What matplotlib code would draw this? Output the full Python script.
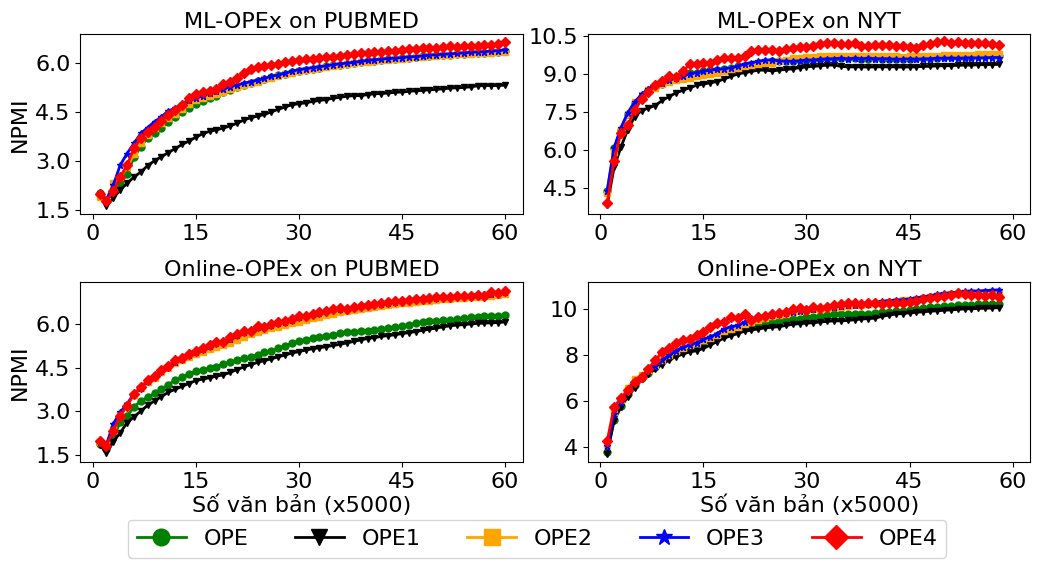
import numpy as np
import matplotlib
matplotlib.use('Agg')
import matplotlib.pyplot as plt

labels = ['OPE', 'OPE1', 'OPE2', 'OPE3', 'OPE4']
colors = ['green', 'black', 'orange', 'blue', 'red']
markers = ['o', 'v', 's', '*', 'D']

x_pubmed = np.arange(1, 61)
x_nyt = np.arange(1, 59)

# ML-OPEx on PUBMED
ml_pubmed_ope = [2.0, 1.8, 2.0, 2.3, 2.6, 3.1, 3.43, 3.7, 3.85, 4.0,
                 4.2, 4.35, 4.5, 4.62, 4.75, 4.83, 4.92, 5.0, 5.1, 5.18,
                 5.25, 5.32, 5.4, 5.45, 5.5, 5.56, 5.62, 5.67, 5.72, 5.77,
                 5.8, 5.83, 5.86, 5.9, 5.93, 5.95, 5.98, 6.0, 6.03, 6.05,
                 6.07, 6.09, 6.11, 6.13, 6.15, 6.17, 6.19, 6.21, 6.22, 6.24,
                 6.25, 6.26, 6.28, 6.29, 6.3, 6.31, 6.32, 6.33, 6.34, 6.36]
ml_pubmed_ope1 = [1.9, 1.6, 1.85, 2.1, 2.3, 2.5, 2.65, 2.85, 3.0, 3.12,
                  3.25, 3.37, 3.5, 3.6, 3.72, 3.83, 3.9, 3.95, 4.0, 4.07,
                  4.15, 4.25, 4.32, 4.37, 4.42, 4.5, 4.58, 4.65, 4.72, 4.75,
                  4.78, 4.82, 4.85, 4.88, 4.92, 4.95, 4.98, 5.0, 5.0, 5.03,
                  5.06, 5.06, 5.08, 5.1, 5.11, 5.13, 5.15, 5.16, 5.18, 5.19,
                  5.21, 5.23, 5.24, 5.25, 5.27, 5.3, 5.31, 5.31, 5.31, 5.32]
ml_pubmed_ope2 = [1.9, 1.8, 2.3, 2.5, 2.8, 3.2, 3.55, 3.8, 4.0, 4.15,
                  4.3, 4.45, 4.6, 4.75, 4.85, 4.92, 4.98, 5.05, 5.12, 5.2,
                  5.27, 5.33, 5.38, 5.43, 5.5, 5.55, 5.6, 5.65, 5.71, 5.76,
                  5.79, 5.82, 5.85, 5.88, 5.91, 5.94, 5.96, 5.99, 6.02, 6.04,
                  6.06, 6.08, 6.1, 6.12, 6.14, 6.16, 6.18, 6.2, 6.22, 6.23,
                  6.25, 6.26, 6.27, 6.28, 6.29, 6.3, 6.31, 6.32, 6.33, 6.35]
ml_pubmed_ope3 = [1.97, 1.8, 2.25, 2.86, 3.22, 3.53, 3.84, 4.02, 4.2, 4.35,
                  4.53, 4.61, 4.74, 4.85, 4.92, 5.0, 5.07, 5.13, 5.2, 5.28,
                  5.33, 5.38, 5.43, 5.48, 5.53, 5.59, 5.64, 5.69, 5.75, 5.8,
                  5.83, 5.86, 5.89, 5.92, 5.95, 5.98, 6.0, 6.02, 6.05, 6.08,
                  6.1, 6.12, 6.14, 6.15, 6.17, 6.19, 6.2, 6.22, 6.24, 6.26,
                  6.27, 6.28, 6.3, 6.31, 6.33, 6.34, 6.35, 6.37, 6.38, 6.41]
ml_pubmed_ope4 = [1.97, 1.76, 2.06, 2.5, 2.86, 3.38, 3.69, 3.89, 4.05, 4.23,
                  4.4, 4.56, 4.71, 4.92, 5.04, 5.1, 5.15, 5.2, 5.36, 5.43,
                  5.54, 5.69, 5.81, 5.88, 5.92, 5.95, 5.98, 6.03, 6.06, 6.1,
                  6.12, 6.13, 6.15, 6.18, 6.2, 6.23, 6.25, 6.27, 6.3, 6.3,
                  6.33, 6.35, 6.36, 6.38, 6.41, 6.42, 6.43, 6.45, 6.46, 6.47,
                  6.48, 6.52, 6.5, 6.51, 6.52, 6.53, 6.55, 6.56, 6.58, 6.64]

# ML-OPEx on NYT
ml_nyt_ope = [4.35, 6.05, 6.8, 7.4, 7.85, 8.1, 8.35, 8.5, 8.6, 8.75,
              8.85, 9.0, 9.05, 9.05, 9.1, 9.15, 9.15, 9.2, 9.25, 9.3,
              9.3, 9.35, 9.4, 9.45, 9.5, 9.5, 9.52, 9.52, 9.55, 9.55,
              9.58, 9.6, 9.62, 9.65, 9.65, 9.63, 9.62, 9.6, 9.6, 9.62,
              9.6, 9.6, 9.58, 9.6, 9.6, 9.62, 9.62, 9.63, 9.65, 9.66,
              9.67, 9.68, 9.68, 9.69, 9.7, 9.7, 9.7, 9.7]
ml_nyt_ope1 = [3.8, 5.3, 6.1, 6.8, 7.3, 7.55, 7.65, 7.75, 7.95, 8.1,
               8.25, 8.35, 8.45, 8.55, 8.6, 8.65, 8.7, 8.8, 8.9, 9.0,
               9.05, 9.1, 9.15, 9.15, 9.12, 9.15, 9.18, 9.2, 9.25, 9.28,
               9.3, 9.32, 9.35, 9.35, 9.3, 9.28, 9.28, 9.28, 9.27, 9.28,
               9.28, 9.28, 9.28, 9.27, 9.28, 9.28, 9.3, 9.3, 9.32, 9.32,
               9.33, 9.34, 9.35, 9.35, 9.36, 9.37, 9.37, 9.38]
ml_nyt_ope2 = [4.3, 5.9, 6.8, 7.4, 7.9, 8.15, 8.35, 8.45, 8.6, 8.7,
               8.75, 8.8, 8.85, 8.9, 8.95, 9.0, 9.05, 9.1, 9.2, 9.25,
               9.3, 9.35, 9.4, 9.42, 9.45, 9.5, 9.55, 9.65, 9.65, 9.67,
               9.68, 9.7, 9.7, 9.7, 9.7, 9.72, 9.7, 9.7, 9.72, 9.7,
               9.7, 9.7, 9.7, 9.68, 9.7, 9.7, 9.72, 9.72, 9.72, 9.74,
               9.75, 9.75, 9.76, 9.76, 9.77, 9.77, 9.77, 9.78]
ml_nyt_ope3 = [4.37, 6.08, 6.87, 7.47, 7.89, 8.19, 8.42, 8.55, 8.65, 8.75,
               8.85, 8.92, 9.0, 9.05, 9.1, 9.15, 9.18, 9.2, 9.25, 9.3,
               9.4, 9.45, 9.5, 9.55, 9.55, 9.52, 9.5, 9.5, 9.52, 9.55,
               9.55, 9.58, 9.6, 9.6, 9.62, 9.6, 9.62, 9.6, 9.62, 9.6,
               9.6, 9.6, 9.58, 9.58, 9.6, 9.58, 9.6, 9.6, 9.62, 9.62,
               9.63, 9.62, 9.63, 9.64, 9.63, 9.64, 9.65, 9.65]
ml_nyt_ope4 = [3.88, 5.55, 6.67, 6.96, 7.57, 7.99, 8.28, 8.55, 8.72, 8.9,
               8.88, 9.1, 9.38, 9.38, 9.42, 9.45, 9.55, 9.65, 9.65, 9.62,
               9.7, 9.9, 9.93, 9.95, 9.93, 9.9, 9.98, 10.02, 10.05, 10.08,
               10.1, 10.17, 10.23, 10.24, 10.2, 10.17, 10.22, 10.12, 10.1, 10.15,
               10.13, 10.15, 10.12, 10.1, 10.08, 10.04, 10.13, 10.17, 10.26, 10.3,
               10.24, 10.26, 10.24, 10.21, 10.21, 10.21, 10.17, 10.13]

# Online-OPEx on PUBMED
on_pubmed_ope = [1.87, 1.7, 2.1, 2.61, 2.84, 3.13, 3.36, 3.47, 3.61, 3.76,
                 3.91, 4.07, 4.16, 4.28, 4.37, 4.42, 4.48, 4.53, 4.62, 4.68,
                 4.76, 4.83, 4.87, 4.94, 5.02, 5.08, 5.17, 5.25, 5.33, 5.43,
                 5.45, 5.52, 5.56, 5.6, 5.63, 5.68, 5.71, 5.74, 5.75, 5.77,
                 5.79, 5.83, 5.86, 5.89, 5.94, 5.98, 6.02, 6.06, 6.09, 6.11,
                 6.13, 6.15, 6.17, 6.2, 6.23, 6.25, 6.27, 6.28, 6.29, 6.31]
on_pubmed_ope1 = [1.85, 1.55, 1.95, 2.25, 2.6, 2.8, 3.0, 3.2, 3.35, 3.5,
                  3.65, 3.75, 3.85, 3.95, 4.05, 4.1, 4.15, 4.2, 4.25, 4.33,
                  4.43, 4.52, 4.6, 4.68, 4.74, 4.8, 4.87, 4.93, 5.0, 5.05,
                  5.1, 5.15, 5.18, 5.22, 5.26, 5.3, 5.35, 5.4, 5.45, 5.5,
                  5.53, 5.57, 5.6, 5.63, 5.67, 5.7, 5.74, 5.78, 5.82, 5.86,
                  5.9, 5.94, 5.96, 5.98, 6.0, 6.02, 6.03, 6.04, 6.05, 6.07]
on_pubmed_ope2 = [1.95, 1.85, 2.4, 2.85, 3.2, 3.55, 3.8, 4.0, 4.15, 4.35,
                  4.5, 4.65, 4.75, 4.85, 4.95, 5.05, 5.15, 5.22, 5.28, 5.35,
                  5.45, 5.55, 5.65, 5.72, 5.78, 5.85, 5.9, 5.95, 6.02, 6.08,
                  6.14, 6.2, 6.25, 6.3, 6.35, 6.4, 6.44, 6.47, 6.51, 6.55,
                  6.58, 6.62, 6.65, 6.68, 6.72, 6.74, 6.76, 6.78, 6.8, 6.83,
                  6.85, 6.87, 6.89, 6.9, 6.92, 6.94, 6.96, 6.98, 7.0, 7.03]
on_pubmed_ope3 = [1.95, 1.85, 2.56, 2.96, 3.25, 3.6, 3.8, 4.05, 4.2, 4.38,
                  4.52, 4.7, 4.8, 4.92, 5.05, 5.13, 5.24, 5.33, 5.38, 5.5,
                  5.62, 5.72, 5.75, 5.88, 5.9, 5.98, 6.04, 6.08, 6.15, 6.25,
                  6.28, 6.33, 6.38, 6.44, 6.5, 6.53, 6.53, 6.57, 6.62, 6.66,
                  6.68, 6.7, 6.74, 6.77, 6.8, 6.82, 6.85, 6.87, 6.89, 6.91,
                  6.92, 6.94, 6.96, 6.98, 6.99, 7.01, 7.02, 7.05, 7.07, 7.1]
on_pubmed_ope4 = [1.98, 1.81, 2.33, 2.84, 3.19, 3.59, 3.82, 4.07, 4.22, 4.42,
                  4.56, 4.76, 4.83, 4.97, 5.08, 5.17, 5.29, 5.37, 5.37, 5.54,
                  5.66, 5.77, 5.75, 5.94, 5.89, 6.0, 6.06, 6.09, 6.17, 6.29,
                  6.29, 6.34, 6.4, 6.46, 6.52, 6.55, 6.52, 6.57, 6.63, 6.67,
                  6.69, 6.71, 6.75, 6.78, 6.8, 6.83, 6.86, 6.86, 6.9, 6.92,
                  6.92, 6.94, 6.95, 6.98, 6.98, 7.01, 6.98, 7.09, 7.06, 7.15]

# Online-OPEx on NYT
on_nyt_ope = [3.8, 5.2, 5.8, 6.3, 6.7, 7.0, 7.25, 7.5, 7.75, 7.95,
              8.15, 8.3, 8.4, 8.5, 8.6, 8.75, 8.85, 8.95, 9.1, 9.2,
              9.25, 9.3, 9.35, 9.4, 9.45, 9.5, 9.55, 9.6, 9.6, 9.65,
              9.65, 9.7, 9.75, 9.78, 9.8, 9.8, 9.8, 9.8, 9.82, 9.85,
              9.88, 9.9, 9.92, 9.95, 9.98, 10.0, 10.05, 10.1, 10.12, 10.15,
              10.15, 10.18, 10.2, 10.2, 10.22, 10.22, 10.22, 10.22]
on_nyt_ope1 = [3.7, 5.15, 5.75, 6.2, 6.6, 6.95, 7.2, 7.4, 7.6, 7.8,
               7.95, 8.05, 8.15, 8.2, 8.3, 8.45, 8.6, 8.75, 8.85, 8.95,
               9.05, 9.1, 9.15, 9.2, 9.22, 9.25, 9.3, 9.35, 9.38, 9.4,
               9.42, 9.45, 9.48, 9.5, 9.5, 9.52, 9.55, 9.58, 9.6, 9.62,
               9.7, 9.75, 9.8, 9.82, 9.85, 9.87, 9.9, 9.92, 9.94, 9.96,
               9.98, 10.0, 10.02, 10.03, 10.04, 10.05, 10.06, 10.08]
on_nyt_ope2 = [4.1, 5.55, 6.05, 6.6, 6.95, 7.15, 7.35, 7.6, 7.82, 8.02,
               8.2, 8.33, 8.43, 8.52, 8.65, 8.75, 8.9, 9.05, 9.15, 9.22,
               9.35, 9.45, 9.55, 9.62, 9.7, 9.75, 9.82, 9.88, 9.93, 9.98,
               10.0, 10.03, 10.08, 10.1, 10.12, 10.15, 10.18, 10.2, 10.22, 10.26,
               10.3, 10.33, 10.36, 10.4, 10.43, 10.47, 10.5, 10.55, 10.58, 10.62,
               10.65, 10.68, 10.7, 10.72, 10.73, 10.74, 10.75, 10.76]
on_nyt_ope3 = [4.05, 5.45, 5.95, 6.5, 6.9, 7.1, 7.3, 7.55, 7.8, 8.0,
               8.2, 8.35, 8.45, 8.55, 8.7, 8.8, 8.95, 9.15, 9.25, 9.3,
               9.45, 9.55, 9.65, 9.7, 9.75, 9.8, 9.85, 9.9, 9.95, 10.0,
               10.02, 10.05, 10.1, 10.12, 10.15, 10.18, 10.2, 10.22, 10.25, 10.3,
               10.35, 10.38, 10.4, 10.42, 10.45, 10.5, 10.55, 10.6, 10.65, 10.7,
               10.72, 10.75, 10.78, 10.8, 10.8, 10.82, 10.83, 10.85]
on_nyt_ope4 = [4.27, 5.75, 6.14, 6.48, 6.84, 7.06, 7.42, 7.79, 8.15, 8.3,
               8.52, 8.66, 8.73, 8.88, 9.02, 9.24, 9.39, 9.46, 9.68, 9.61,
               9.8, 9.53, 9.68, 9.71, 9.8, 9.85, 9.9, 10.0, 10.04, 9.97,
               10.09, 10.04, 10.12, 10.19, 10.23, 10.29, 10.26, 10.23, 10.26, 10.29,
               10.23, 10.26, 10.26, 10.29, 10.33, 10.38, 10.44, 10.48, 10.52, 10.58,
               10.63, 10.7, 10.67, 10.63, 10.63, 10.58, 10.63, 10.55]

panels = [
    ('ML-OPEx on PUBMED', x_pubmed,
     [ml_pubmed_ope, ml_pubmed_ope1, ml_pubmed_ope2, ml_pubmed_ope3, ml_pubmed_ope4],
     [1.5, 3.0, 4.5, 6.0], (1.35, 6.9)),
    ('ML-OPEx on NYT', x_nyt,
     [ml_nyt_ope, ml_nyt_ope1, ml_nyt_ope2, ml_nyt_ope3, ml_nyt_ope4],
     [4.5, 6.0, 7.5, 9.0, 10.5], (3.44, 10.59)),
    ('Online-OPEx on PUBMED', x_pubmed,
     [on_pubmed_ope, on_pubmed_ope1, on_pubmed_ope2, on_pubmed_ope3, on_pubmed_ope4],
     [1.5, 3.0, 4.5, 6.0], (1.24, 7.46)),
    ('Online-OPEx on NYT', x_nyt,
     [on_nyt_ope, on_nyt_ope1, on_nyt_ope2, on_nyt_ope3, on_nyt_ope4],
     [4, 6, 8, 10], (3.35, 11.21)),
]

plt.rcParams['font.size'] = 16

fig, axes = plt.subplots(2, 2, figsize=(10.43, 5.63), dpi=100)
fig.subplots_adjust(left=0.077, right=0.988, top=0.94, bottom=0.179,
                    wspace=0.147, hspace=0.372)

for i, (title, x, series, yticks, ylim) in enumerate(panels):
    ax = axes.flat[i]
    for j, values in enumerate(series):
        ax.plot(x, values, color=colors[j], marker=markers[j], markersize=5,
                linewidth=2, label=labels[j])
    ax.set_title(title, fontsize=16, pad=4)
    ax.set_xticks([0, 15, 30, 45, 60])
    ax.set_xlim(-1.8, 62.6)
    ax.set_yticks(yticks)
    ax.set_ylim(*ylim)
    ax.tick_params(labelsize=16)
    if i % 2 == 0:
        ax.set_ylabel('NPMI', fontsize=16)
    if i >= 2:
        ax.set_xlabel('Số văn bản (x5000)', fontsize=16, labelpad=2)

handles, leg_labels = axes[0, 0].get_legend_handles_labels()
fig.legend(handles, leg_labels, loc='lower center', ncol=5, fontsize=16,
           markerscale=2.4, handlelength=2.2, columnspacing=2.1,
           bbox_to_anchor=(0.515, -0.01))

plt.savefig('out.png', dpi=100)
